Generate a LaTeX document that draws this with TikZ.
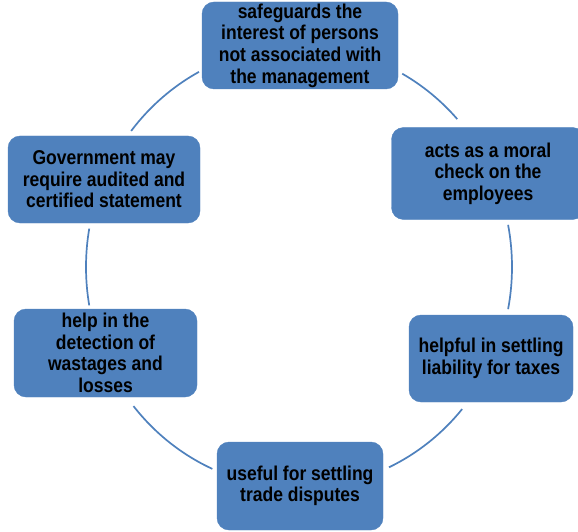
\documentclass[tikz,border=0pt]{standalone}
\usepackage{fontspec}
\usepackage{tikz}
\usetikzlibrary{calc}
\newfontfamily\boxfont{Liberation Sans}[FakeStretch=0.875]
\definecolor{boxblue}{RGB}{79,129,189}
\tikzset{
    stepbox/.style={draw=boxblue, fill=boxblue, rounded corners=12pt, align=center,
        inner sep=0pt, text=black, font=\boxfont\bfseries\fontsize{20}{21.6}\selectfont},
    cycleline/.style={draw=boxblue, line width=1.7pt},
}
\begin{document}
\begin{tikzpicture}[x=1pt, y=1pt]
	\useasboundingbox (0,0) rectangle (578,531);
	\coordinate (c) at (299,264);
	\node[stepbox, minimum width=196pt, minimum height=87pt] (top) at (300,485.5)
		{safeguards the\\interest of persons\\not associated with\\the management};
	\node[stepbox, minimum width=193pt, minimum height=92pt] (rtop) at (488,357.5)
		{acts as a moral\\check on the\\employees};
	\node[stepbox, minimum width=164pt, minimum height=87pt] (rbot) at (491,172.5)
		{helpful in settling\\liability for taxes};
	\node[stepbox, minimum width=166pt, minimum height=88pt] (bot) at (300,45)
		{useful for settling\\trade disputes};
	\node[stepbox, minimum width=183pt, minimum height=88pt] (lbot) at (105.5,178)
		{help in the\\detection of\\wastages and\\losses};
	\node[stepbox, minimum width=192pt, minimum height=87pt] (ltop) at (104,351.5)
		{Government may\\require audited and\\certified statement};
	% arcs of the cycle
	\foreach \s/\e/\n in {61/42/a, 11/-11/b, -40/-65/c, -114/-141/d, 190/170/e, 142/118/f}{
		\coordinate (arc\n) at ($(c)+(\s:213pt and 221pt)$);
		\draw[cycleline] (arc\n) arc[start angle=\s, end angle=\e, x radius=213pt, y radius=221pt];
	}
\end{tikzpicture}
\end{document}
